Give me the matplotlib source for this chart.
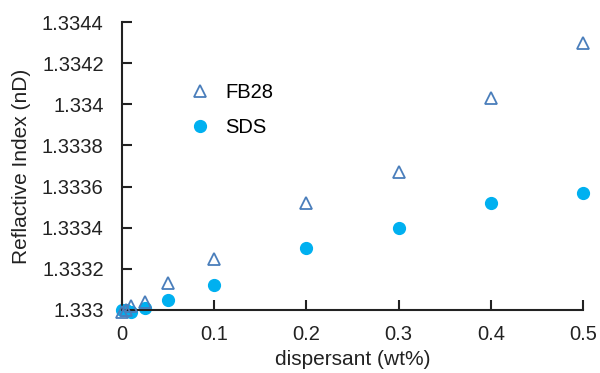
import matplotlib
matplotlib.use("Agg")
import matplotlib.pyplot as plt

plt.rcParams['font.family'] = ['Liberation Sans', 'DejaVu Sans']

# dispersant concentration (wt%)
conc = [0, 0.005, 0.01, 0.025, 0.05, 0.1, 0.2, 0.3, 0.4, 0.5]
fb28 = [1.33299, 1.33300, 1.33302, 1.33304, 1.33313, 1.33325, 1.33352, 1.33367, 1.33403, 1.33430]
sds = [1.33300, 1.33300, 1.33299, 1.33301, 1.33305, 1.33312, 1.33330, 1.33340, 1.33352, 1.33357]

yticks = [1.333, 1.3332, 1.3334, 1.3336, 1.3338, 1.334, 1.3342, 1.3344]
ytick_labels = ["1.333", "1.3332", "1.3334", "1.3336", "1.3338", "1.334", "1.3342", "1.3344"]
xticks = [0, 0.1, 0.2, 0.3, 0.4, 0.5]
xtick_labels = ["0", "0.1", "0.2", "0.3", "0.4", "0.5"]

fig = plt.figure(figsize=(6, 3.73), dpi=100)
ax = fig.add_axes([0.203, 0.169, 0.769, 0.772])

ax.plot(conc, fb28, linestyle='none', marker='^', markersize=9, markerfacecolor='none',
        markeredgecolor='#4a7ebb', markeredgewidth=1.3, label='FB28', clip_on=False, zorder=3)
ax.plot(conc, sds, linestyle='none', marker='o', markersize=8.5, markerfacecolor='#00b0f0',
        markeredgecolor='#00b0f0', label='SDS', clip_on=False, zorder=2)

ax.set_xlim(0, 0.5)
ax.set_ylim(1.333, 1.3344)
ax.set_xticks(xticks)
ax.set_xticklabels(xtick_labels)
ax.set_yticks(yticks)
ax.set_yticklabels(ytick_labels)

for s in ['top', 'right']:
    ax.spines[s].set_visible(False)
for s in ['left', 'bottom']:
    ax.spines[s].set_linewidth(1.5)
    ax.spines[s].set_color('#222222')

ax.tick_params(direction='in', length=7, width=1.5, labelsize=14.5, colors='#222222')
ax.tick_params(axis='x', pad=11)
ax.tick_params(axis='y', pad=13)

ax.set_xlabel('dispersant (wt%)', fontsize=15, color='#222222', labelpad=4)
ax.set_ylabel('Reflactive Index (nD)', fontsize=15, color='#222222', labelpad=8)

leg = ax.legend(loc='upper left', bbox_to_anchor=(0.108, 0.815), frameon=False, fontsize=14.5,
                handletextpad=0.25, labelspacing=0.8, borderaxespad=0)

fig.savefig('out.png', dpi=100)
